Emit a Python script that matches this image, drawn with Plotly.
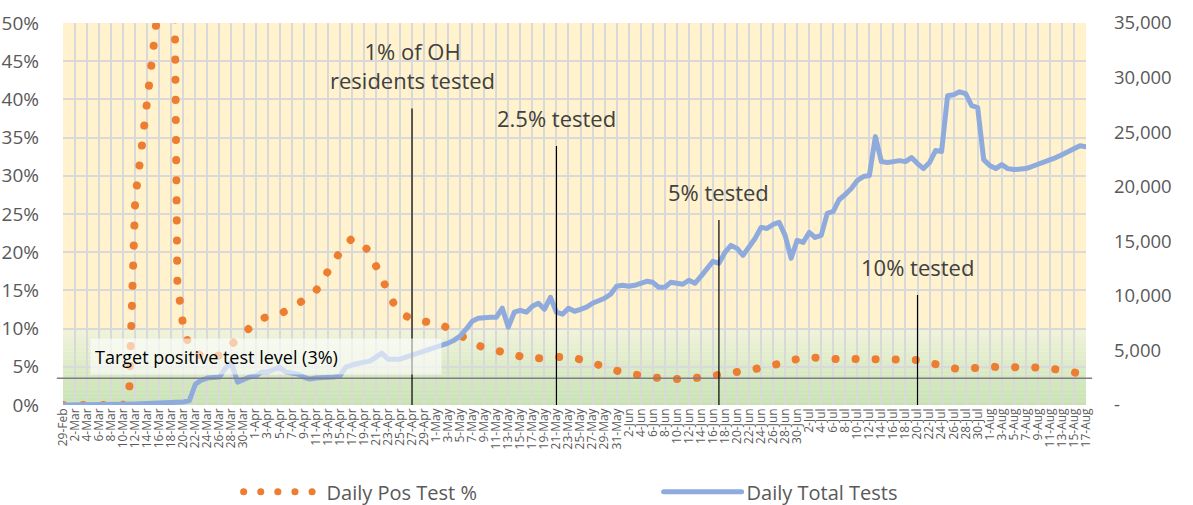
import pandas as pd
import plotly.graph_objects as go

# x categories: one per day, 29-Feb .. 17-Aug 2020
dates = pd.date_range("2020-02-29", "2020-08-17", freq="D")
day_labels = [f"{d.day}-{d:%b}" for d in dates]

# Daily positive test %
pos_pct = [
    0, 0, 0, 0, 0, 0, 0, 0, 0, 0, 0, 1.5, 27.0, 33.2, 39.6, 45.7, 53.0, 60.0, 100.0, 16.0,
    10.2, 7.6, 6.8, 6.3, 6.1, 6.3, 6.5, 7.2, 7.9, 8.7, 9.5, 10.3, 10.8, 11.3, 11.6, 11.8, 11.9, 12.2, 12.7, 13.2,
    13.7, 14.2, 14.9, 16.2, 17.3, 18.7, 20.0, 21.1, 21.8, 21.5, 20.9, 19.9, 18.1, 16.4, 14.7, 13.2, 12.1, 11.5, 11.2, 11.1,
    11.0, 10.9, 10.8, 10.5, 10.0, 9.5, 9.0, 8.6, 8.2, 7.8, 7.5, 7.3, 7.0, 6.8, 6.6, 6.4, 6.3, 6.1, 6.0, 6.1,
    6.2, 6.3, 6.3, 6.3, 6.3, 6.2, 6.0, 5.8, 5.5, 5.2, 5.0, 4.7, 4.5, 4.3, 4.1, 3.9, 3.8, 3.7, 3.6, 3.5,
    3.4, 3.4, 3.4, 3.4, 3.4, 3.5, 3.6, 3.7, 3.8, 3.9, 4.0, 4.2, 4.3, 4.5, 4.6, 4.7, 4.9, 5.0, 5.2, 5.4,
    5.7, 5.9, 6.1, 6.2, 6.3, 6.2, 6.1, 6.0, 6.0, 6.0, 6.1, 6.0, 6.0, 6.0, 5.9, 6.0, 6.0, 5.9, 5.9, 6.0,
    6.0, 6.0, 5.9, 5.7, 5.5, 5.3, 5.0, 4.9, 4.8, 4.7, 4.7, 4.7, 4.8, 4.9, 5.0, 5.0, 5.1, 5.1, 5.1, 5.1,
    5.1, 5.1, 5.0, 4.9, 4.8, 4.7, 4.5, 4.3, 4.2, 4.1, 4.0,
]

# Daily total tests
total_tests = [
    0, 0, 0, 0, 0, 10, 10, 20, 30, 40, 60, 80, 100, 120, 140, 160, 180, 200, 230, 260,
    270, 400, 1900, 2290, 2470, 2510, 2560, 3380, 3840, 2100, 2380, 2560, 2650, 3020, 3020, 3200, 3470, 3020, 2920, 2830,
    2560, 2380, 2470, 2470, 2560, 2560, 2650, 3470, 3660, 3840, 3930, 4020, 4390, 4750, 4200, 4200, 4200, 4390, 4570, 4750,
    4840, 5030, 5210, 5390, 5670, 5940, 6310, 6950, 7680, 7950, 8040, 8040, 8040, 8870, 7130, 8500, 8680, 8500, 9050, 9320,
    8770, 9870, 8500, 8320, 8870, 8590, 8770, 8960, 9320, 9510, 9780, 10150, 10880, 10970, 10880, 10970, 11150, 11330, 11240, 10790,
    10790, 11240, 11150, 11060, 11430, 11150, 11790, 12520, 13160, 12980, 13980, 14620, 14350, 13710, 14440, 15260, 16270, 16180, 16540, 16730,
    15540, 13440, 15080, 14900, 15810, 15350, 15540, 17550, 17730, 18830, 19290, 19830, 20570, 20930, 21020, 24590, 22300, 22210, 22300, 22390,
    22300, 22670, 22120, 21660, 22210, 23310, 23220, 28330, 28430, 28700, 28520, 27420, 27240, 22480, 21940, 21660, 22030, 21660, 21570, 21570,
    21660, 21850, 22030, 22210, 22390, 22670, 22940, 23220, 23490, 23760, 23670,
]

milestone_dates = ["27-Apr", "21-May", "17-Jun", "20-Jul"]
milestone_labels = ["1% of OH<br>residents tested", "2.5% tested", "5% tested", "10% tested"]
milestone_tops = [38.8, 33.9, 24.2, 14.4]  # % on the left axis

target_level = 3.5  # where the target line sits on the left axis (%)
target_text = "Target positive test level (3%)"

right_ticks = [0, 5000, 10000, 15000, 20000, 25000, 30000, 35000]
right_ticktext = ["-", "5,000", "10,000", "15,000", "20,000", "25,000", "30,000", "35,000"]

ORANGE = "#ED7D31"
BLUE = "#8FAADC"
GREY_TXT = "#595959"
FONT = "Open Sans"

fig = go.Figure()

# blue first so the orange dots sit on top of it
fig.add_trace(go.Scatter(x=day_labels, y=total_tests, mode="lines", yaxis="y2",
                         line=dict(color=BLUE, width=5),
                         showlegend=False, hoverinfo="skip"))
fig.add_trace(go.Scatter(x=day_labels, y=[v / 100 for v in pos_pct], mode="lines",
                         line=dict(color=ORANGE, width=8, dash="0.1px,20px"),
                         showlegend=False, hoverinfo="skip"))

# legend-only entries (Excel draws smaller legend samples)
fig.add_trace(go.Scatter(x=[None], y=[None], mode="lines", name="Daily Pos Test %",
                         line=dict(color=ORANGE, width=7, dash="0.1px,17px")))
fig.add_trace(go.Scatter(x=[None], y=[None], mode="lines", name="Daily Total Tests", yaxis="y2",
                         line=dict(color=BLUE, width=5)))

# green "safe" band below 10% as a soft vertical gradient
n_bands = 20
top_c = (239, 243, 219)
bot_c = (200, 226, 181)
for k in range(n_bands):
    t = k / (n_bands - 1)
    c = tuple(round(bot_c[j] + (top_c[j] - bot_c[j]) * t) for j in range(3))
    fig.add_shape(type="rect", xref="paper", yref="y", x0=0, x1=1,
                  y0=0.10 * k / n_bands, y1=0.10 * (k + 1) / n_bands,
                  fillcolor="rgb(%d,%d,%d)" % c, line_width=0, layer="below")

# target line + label
fig.add_shape(type="line", xref="paper", yref="y", x0=-0.006, x1=1.006,
              y0=target_level / 100, y1=target_level / 100,
              line=dict(color="#7F7F7F", width=1.5))
fig.add_annotation(x=0.0264, xref="paper", xanchor="left", y=target_level / 100, yref="y",
                   yanchor="bottom", yshift=3, text=target_text, showarrow=False,
                   align="left", width=342, height=27, borderpad=4,
                   bgcolor="rgba(255,255,255,0.6)",
                   font=dict(family=FONT, size=18, color="#000000"))

# milestone markers
for d, lab, top in zip(milestone_dates, milestone_labels, milestone_tops):
    xi = day_labels.index(d)
    fig.add_shape(type="line", xref="x", yref="y", x0=xi, x1=xi, y0=0, y1=top / 100,
                  line=dict(color="#000000", width=1.2))
    shift = 43 if "<br>" in lab else 28
    fig.add_annotation(x=xi, y=top / 100, xref="x", yref="y", text=lab, showarrow=False,
                       yanchor="middle", yshift=shift,
                       font=dict(family=FONT, size=22, color="#404040"))

fig.update_layout(
    width=1193, height=505,
    margin=dict(l=63, r=107, t=23, b=100, autoexpand=False),
    paper_bgcolor="white",
    plot_bgcolor="#FFF2CC",
    font=dict(family=FONT, color=GREY_TXT),
    xaxis=dict(type="category", range=[0, len(day_labels) - 1],
               tickmode="array", tickvals=day_labels[::2], tickangle=-90,
               tickfont=dict(size=12, color=GREY_TXT),
               showgrid=True, gridcolor="#D9D9D9", gridwidth=2,
               showline=False, zeroline=False, ticks="", automargin=False),
    yaxis=dict(range=[0, 0.5], dtick=0.05, tickformat=".0%",
               tickfont=dict(size=19, color=GREY_TXT),
               showgrid=True, gridcolor="#D9D9D9", gridwidth=2,
               zeroline=False, showline=False, ticks="", ticklabelstandoff=23,
               automargin=False),
    yaxis2=dict(range=[0, 35000], overlaying="y", side="right",
                tickmode="array", tickvals=right_ticks, ticktext=right_ticktext,
                tickfont=dict(size=18.5, color=GREY_TXT),
                showgrid=False, zeroline=False, showline=False, ticks="",
                ticklabelstandoff=27, automargin=False),
    legend=dict(orientation="h", xref="container", yref="container",
                x=0.2, xanchor="left", y=0.026, yanchor="middle",
                font=dict(size=20, color=GREY_TXT), itemwidth=78,
                entrywidth=327, bgcolor="rgba(0,0,0,0)"),
    showlegend=True,
)

# round dots for the dotted series, and no page margin around the figure
css = ".scatterlayer .js-line, .legend .js-line {stroke-linecap: round; stroke-linejoin: round;} body {margin: 0;}"
post = "var s=document.createElement('style');s.textContent='" + css + "';document.head.appendChild(s);"

fig.write_html("out.html", post_script=post, config={"displayModeBar": False})
